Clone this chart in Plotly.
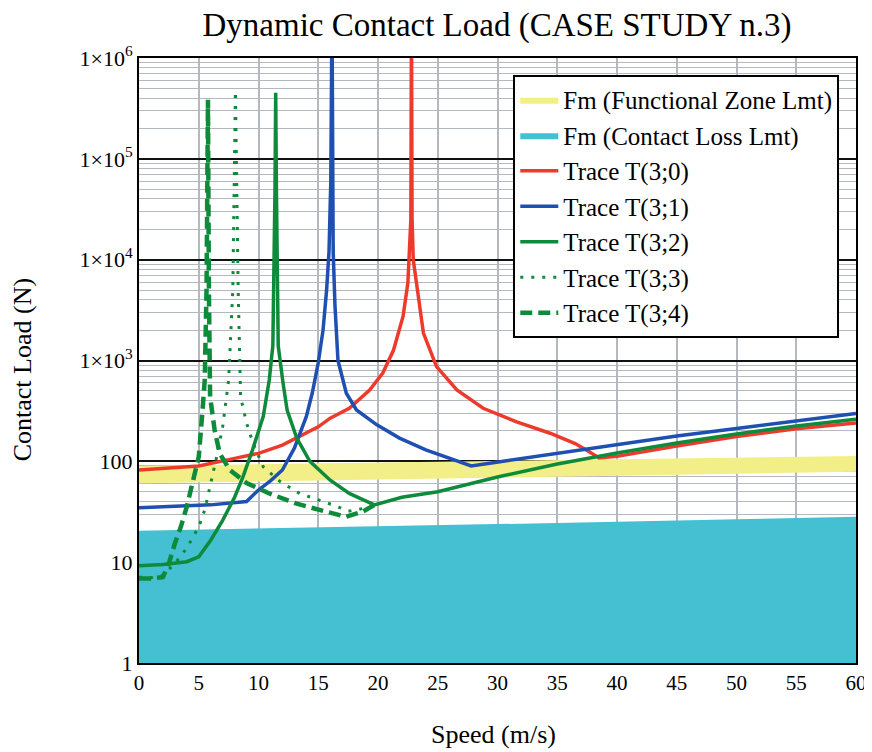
import plotly.graph_objects as go

# ---------------- data ----------------
speed_lim = [0, 10, 20, 30, 40, 50, 60]
contact_loss = [20.5, 21.5, 22.6, 23.8, 25.1, 26.6, 28.2]
func_lo = [60.5, 63, 66, 69, 72, 75.5, 79]
func_hi = [90, 93.5, 97, 101, 105, 109, 113]

t0_x = [0, 2, 5, 8, 10, 12, 14, 15, 16, 17.6, 19.3, 20.4, 21.3, 22.1, 22.5, 22.65, 22.75, 22.8,
        22.85, 22.95, 23.2, 23.8, 24.9, 26.6, 28.8, 31.6, 34.4, 36.5, 37.5, 38.5, 40, 45, 50, 55, 60]
t0_y = [82, 85, 90, 107, 120, 145, 190, 220, 268, 336, 510, 750, 1270, 2750, 5900, 20000, 25000, 3e6,
        25000, 10000, 5900, 1870, 870, 510, 336, 246, 190, 150, 128, 108, 112, 142, 176, 210, 240]

t1_x = [0, 3, 6, 9, 10, 11, 12, 13, 14, 14.5, 15, 15.4, 15.7, 15.9, 16.05, 16.15, 16.25, 16.4, 16.65,
        17.35, 18.2, 19.9, 21.8, 24, 26, 27.8, 30.2, 35, 40, 45, 50, 55, 60]
t1_y = [34.6, 35.5, 37, 40, 52, 64, 82, 135, 277, 476, 950, 2000, 5000, 12000, 60000, 3e6, 12000, 3500, 1000,
        473, 323, 230, 170, 130, 107, 90, 99, 120, 148, 178, 212, 252, 298]

t2_x = [0, 2, 4, 5, 6, 7, 8, 8.7, 9.5, 10.4, 10.9, 11.2, 11.38, 11.44, 11.5, 11.65, 12.05, 12.4, 13.2,
        14.3, 16, 17.6, 18.5, 19.7, 22, 25, 30, 35, 40, 45, 50, 55, 60]
t2_y = [9.2, 9.5, 10.1, 11.3, 16.5, 26, 44, 70, 130, 280, 640, 1400, 50000, 451000, 50000, 1400, 600, 320, 170,
        100, 65, 48, 43, 37, 44, 50, 70, 94, 121, 152, 187, 224, 262]

t3_x = [0, 1, 2, 3, 4, 5, 5.5, 6, 6.5, 7, 7.5, 7.85, 8.07, 8.3, 8.5, 9.0, 9.55, 10.4, 11.8, 13.45, 15.1,
        16.5, 17.5, 18.7, 19.7]
t3_y = [7.1, 7.0, 7.4, 9.7, 13.8, 22.4, 33, 60, 111, 220, 640, 5000, 470000, 5000, 437, 240, 150, 88, 63,
        48, 41, 36, 32, 34, 37]

t4_x = [0, 1, 2, 2.5, 3, 3.5, 4, 4.5, 5, 5.3, 5.5, 5.65, 5.77, 5.85, 5.95, 6.33, 6.75, 7.6, 9.0, 10.9,
        13.2, 15.1, 17.3, 18.7, 19.7]
t4_y = [6.9, 6.9, 7.1, 9.7, 15.3, 22.4, 35.6, 65, 111, 300, 640, 5000, 386000, 5000, 437, 204, 120, 82, 61,
        48, 38, 33, 28.2, 31.6, 37]

y_tickvals = [1, 10, 100, 1000, 1e4, 1e5, 1e6]
y_ticktext = ["1", "10", "100", "1×10<sup>3</sup>", "1×10<sup>4</sup>", "1×10<sup>5</sup>", "1×10<sup>6</sup>"]
x_tickvals = [0, 5, 10, 15, 20, 25, 30, 35, 40, 45, 50, 55, 60]

FONT = "Liberation Serif, Times New Roman, serif"
RED = "#ee3a2c"
BLUE = "#1f4fb0"
GREEN = "#0d8a3a"
CYAN = "#45c0d3"
YELLOW = "#f3ef88"

fig = go.Figure()

# Contact-loss limit (cyan area)
fig.add_trace(go.Scatter(x=speed_lim, y=contact_loss, mode="lines", line=dict(color=CYAN, width=0),
                         fill="tozeroy", fillcolor=CYAN, name="Fm (Contact Loss Lmt)",
                         legendrank=2, legendgroup="b"))
# Functional zone limit (yellow band)
fig.add_trace(go.Scatter(x=speed_lim, y=func_lo, mode="lines", line=dict(color=YELLOW, width=0),
                         showlegend=False, hoverinfo="skip"))
fig.add_trace(go.Scatter(x=speed_lim, y=func_hi, mode="lines", line=dict(color=YELLOW, width=0),
                         fill="tonexty", fillcolor=YELLOW, name="Fm (Functional Zone Lmt)",
                         legendrank=1, legendgroup="a"))

fig.add_trace(go.Scatter(x=t0_x, y=t0_y, mode="lines", line=dict(color=RED, width=3.5),
                         name="Trace T(3;0)", legendrank=3, legendgroup="c"))
fig.add_trace(go.Scatter(x=t1_x, y=t1_y, mode="lines", line=dict(color=BLUE, width=3.5),
                         name="Trace T(3;1)", legendrank=4, legendgroup="d"))
fig.add_trace(go.Scatter(x=t4_x, y=t4_y, mode="lines", line=dict(color=GREEN, width=4.5, dash="12px,6px"),
                         name="Trace T(3;4)", legendrank=7, legendgroup="g"))
fig.add_trace(go.Scatter(x=t3_x, y=t3_y, mode="lines", line=dict(color=GREEN, width=3, dash="3px,8px"),
                         name="Trace T(3;3)", legendrank=6, legendgroup="f"))
fig.add_trace(go.Scatter(x=t2_x, y=t2_y, mode="lines", line=dict(color=GREEN, width=3.5),
                         name="Trace T(3;2)", legendrank=5, legendgroup="e"))

# the page body adds an 8px offset, so the figure is 8px smaller on each axis
fig.update_layout(
    width=864, height=744,
    margin=dict(l=131, r=16, t=50, b=89, autoexpand=False),
    paper_bgcolor="white", plot_bgcolor="white",
    font=dict(family=FONT, color="black", size=20),
    title=dict(text="Dynamic Contact Load (CASE STUDY n.3)", x=0.566, xanchor="center",
               y=0.9785, yanchor="middle", font=dict(family=FONT, size=33, color="black")),
    showlegend=True,
    legend=dict(x=0.522, y=0.972, xanchor="left", yanchor="top", bgcolor="white",
                bordercolor="black", borderwidth=2, font=dict(family=FONT, size=25),
                tracegroupgap=0, itemwidth=38),
    xaxis=dict(range=[0, 60], tickvals=x_tickvals, showgrid=True, gridcolor="#b4b8bf", gridwidth=1.5,
               showline=True, linecolor="black", linewidth=2, mirror=True, ticks="", zeroline=False,
               automargin=False, tickfont=dict(family=FONT, size=21)),
    yaxis=dict(type="log", range=[0, 6], tickvals=y_tickvals, ticktext=y_ticktext,
               showgrid=True, gridcolor="#111111", gridwidth=1.5,
               minor=dict(dtick="D1", showgrid=True, gridcolor="#b4b8bf", gridwidth=1.2, ticks=""),
               showline=True, linecolor="black", linewidth=2, mirror=True, ticks="", zeroline=False,
               automargin=False, tickfont=dict(family=FONT, size=22)),
    annotations=[
        dict(text="Contact Load (N)", xref="paper", yref="paper", x=-0.163, y=0.484,
             xanchor="center", yanchor="middle",
             textangle=-90, showarrow=False, font=dict(family=FONT, size=26)),
        dict(text="Speed (m/s)", xref="paper", yref="paper", x=0.494, y=-0.119,
             xanchor="center", yanchor="middle",
             showarrow=False, font=dict(family=FONT, size=26)),
    ],
)

fig.write_html("out.html")
